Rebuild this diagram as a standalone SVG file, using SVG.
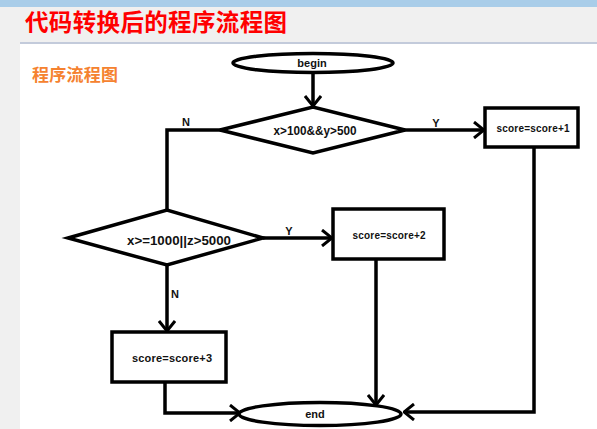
<svg xmlns="http://www.w3.org/2000/svg" width="597" height="429" viewBox="0 0 597 429">
<style>
.ln{fill:none;stroke:#000;stroke-width:3.5;stroke-linejoin:miter}
.sh{fill:#fff;stroke:#000;stroke-width:3.5}
.t{font-family:"Liberation Sans","DejaVu Sans",sans-serif;font-weight:bold;fill:#111;text-anchor:middle;dominant-baseline:central}
</style>
<defs>
<marker id="ar" viewBox="0 0 12 18" refX="11" refY="9" markerWidth="12" markerHeight="18" markerUnits="userSpaceOnUse" orient="auto">
<path d="M1,1 L11,9 L1,17" fill="none" stroke="#000" stroke-width="3"/>
</marker>
</defs>
<rect x="0" y="0" width="597" height="429" fill="#f0f0f0"/>
<rect x="0" y="0" width="597" height="7" fill="#a9cde9"/>
<rect x="20" y="44" width="577" height="385" fill="#ffffff"/>
<rect x="20" y="42" width="577" height="2" fill="#c3cbdb"/>
<text x="25" y="31" font-family="'Noto Sans CJK SC',sans-serif" font-weight="bold" font-size="23.5" fill="#ff0000" textLength="262">代码转换后的程序流程图</text>
<text x="32" y="81" font-family="'Noto Sans CJK SC',sans-serif" font-weight="bold" font-size="17" fill="#f5822f" textLength="86">程序流程图</text>
<g id="connectors">
<path class="ln" d="M313,73 V106" marker-end="url(#ar)"/>
<path class="ln" d="M405,130 H484" marker-end="url(#ar)"/>
<path class="ln" d="M220,130 H167 V210"/>
<path class="ln" d="M263,238 H332" marker-end="url(#ar)"/>
<path class="ln" d="M167,265 V331" marker-end="url(#ar)"/>
<path class="ln" d="M534,147 V412 H404" marker-end="url(#ar)"/>
<path class="ln" d="M376,259 V405" marker-end="url(#ar)"/>
<path class="ln" d="M165,382 V413 H240" marker-end="url(#ar)"/>
<text class="t" x="186" y="122" font-size="11">N</text>
<text class="t" x="436" y="123" font-size="11">Y</text>
<text class="t" x="289" y="231" font-size="11">Y</text>
<text class="t" x="175" y="294" font-size="11">N</text>
</g>
<g id="begin">
<ellipse class="sh" cx="313" cy="63" rx="80" ry="9.5"/>
<text class="t" x="312" y="63" font-size="11">begin</text>
</g>
<g id="cond1">
<polygon class="sh" points="220,130 313,107 405,130 313,153"/>
<text class="t" x="315" y="131" font-size="12" textLength="83" lengthAdjust="spacingAndGlyphs">x&gt;100&amp;&amp;y&gt;500</text>
</g>
<g id="add1">
<rect class="sh" x="485" y="108" width="93" height="39"/>
<text class="t" x="533" y="128" font-size="10" textLength="73">score=score+1</text>
</g>
<g id="cond2">
<polygon class="sh" points="68,238 167,210 263,238 167,265"/>
<text class="t" x="179" y="241" font-size="12.5" textLength="104" lengthAdjust="spacingAndGlyphs">x&gt;=1000||z&gt;5000</text>
</g>
<g id="add2">
<rect class="sh" x="333" y="209" width="111" height="50"/>
<text class="t" x="389" y="235" font-size="10" textLength="73">score=score+2</text>
</g>
<g id="add3">
<rect class="sh" x="112" y="332" width="114" height="50"/>
<text class="t" x="172" y="358" font-size="11" textLength="80">score=score+3</text>
</g>
<g id="end">
<ellipse class="sh" cx="320" cy="414" rx="81" ry="11.5"/>
<text class="t" x="315" y="414" font-size="11">end</text>
</g>
</svg>
